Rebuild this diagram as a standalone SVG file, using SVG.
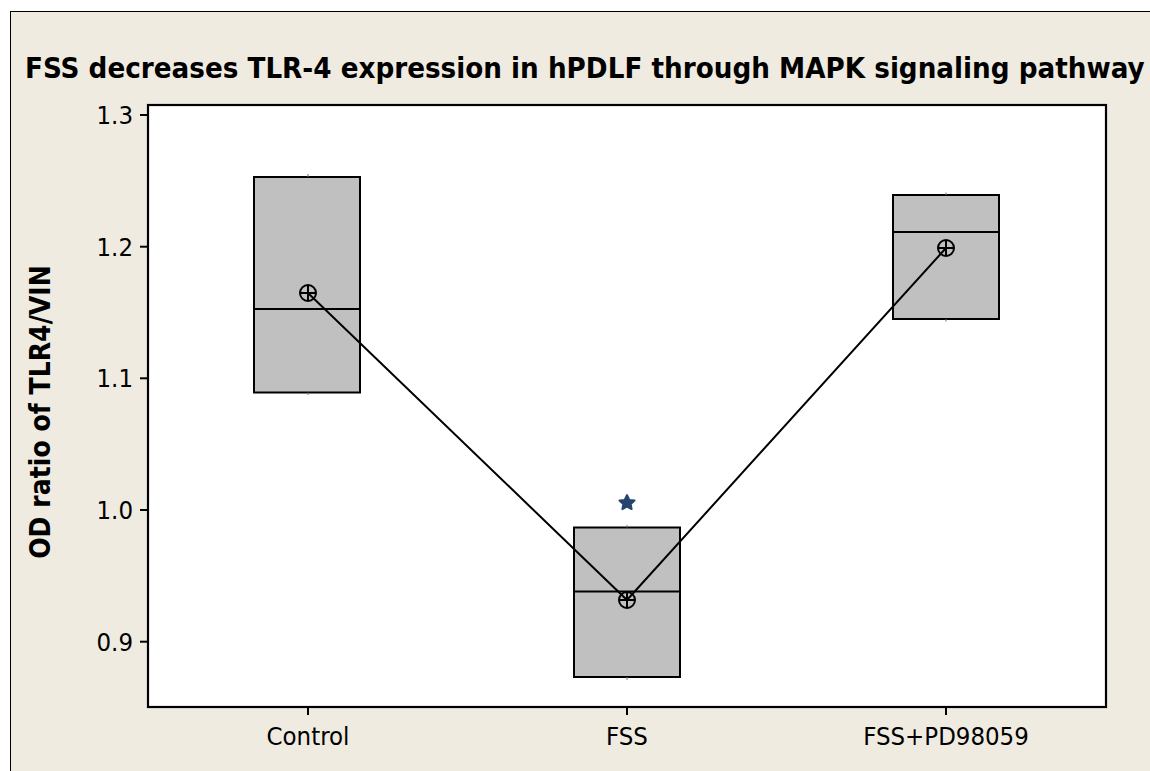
<svg xmlns="http://www.w3.org/2000/svg" width="1150" height="771" viewBox="0 0 1150 771">
<style>
.tick{stroke:#000;stroke-width:2}
.lbl{font-family:"DejaVu Sans Condensed","DejaVu Sans",sans-serif;font-stretch:condensed;font-size:25.5px;fill:#000}
.box{fill:#C0C0C0;stroke:#000;stroke-width:2}
.med{stroke:#000;stroke-width:2}
.wh{stroke:#777;stroke-width:1}
</style>
<defs>
<g id="meansym">
<circle cx="0" cy="0" r="8" fill="none" stroke="#000" stroke-width="2"/>
<line x1="-8" y1="0" x2="8" y2="0" stroke="#000" stroke-width="2"/>
<line x1="0" y1="-8" x2="0" y2="8" stroke="#000" stroke-width="2"/>
</g>
</defs>
<rect x="0" y="0" width="1150" height="771" fill="#fff"/>
<rect x="10.5" y="11.5" width="1150" height="770" fill="#EFEBE1" stroke="#000" stroke-width="1"/>
<g id="title">
<text x="25" y="78" font-family="'DejaVu Sans Condensed','DejaVu Sans',sans-serif" font-stretch="condensed" font-weight="bold" font-size="29.2" fill="#000">FSS decreases TLR-4 expression in hPDLF through MAPK signaling pathway</text>
</g>
<g id="plot-area">
<rect x="148" y="105" width="958" height="602" fill="#fff" stroke="#000" stroke-width="2.2"/>
</g>
<g id="y-axis">
<line class="tick" x1="140" y1="115" x2="148" y2="115"/>
<line class="tick" x1="140" y1="246.7" x2="148" y2="246.7"/>
<line class="tick" x1="140" y1="378.3" x2="148" y2="378.3"/>
<line class="tick" x1="140" y1="510" x2="148" y2="510"/>
<line class="tick" x1="140" y1="641.7" x2="148" y2="641.7"/>
<text class="lbl" x="133" y="124" text-anchor="end">1.3</text>
<text class="lbl" x="133" y="255.7" text-anchor="end">1.2</text>
<text class="lbl" x="133" y="387.3" text-anchor="end">1.1</text>
<text class="lbl" x="133" y="519" text-anchor="end">1.0</text>
<text class="lbl" x="133" y="650.7" text-anchor="end">0.9</text>
<text x="50" y="412" transform="rotate(-90 50 412)" text-anchor="middle" font-family="'DejaVu Sans Condensed','DejaVu Sans',sans-serif" font-stretch="condensed" font-weight="bold" font-size="28" fill="#000">OD ratio of TLR4/VIN</text>
</g>
<g id="x-axis">
<line class="tick" x1="308" y1="707" x2="308" y2="715"/>
<line class="tick" x1="627" y1="707" x2="627" y2="715"/>
<line class="tick" x1="946" y1="707" x2="946" y2="715"/>
<text class="lbl" x="308" y="745" text-anchor="middle">Control</text>
<text class="lbl" x="627" y="745" text-anchor="middle">FSS</text>
<text class="lbl" x="946" y="745" text-anchor="middle">FSS+PD98059</text>
</g>
<g id="box-control">
<rect class="box" x="254" y="177" width="106" height="215.5"/>
<line class="med" x1="254" y1="309" x2="360" y2="309"/>
<line class="wh" x1="308" y1="174" x2="308" y2="177"/>
<line class="wh" x1="308" y1="392.5" x2="308" y2="395"/>
</g>
<g id="box-fss">
<rect class="box" x="574" y="527.5" width="106" height="149.5"/>
<line class="med" x1="574" y1="591.5" x2="680" y2="591.5"/>
<line class="wh" x1="627" y1="525" x2="627" y2="527.5"/>
<line class="wh" x1="627" y1="677" x2="627" y2="680"/>
<path d="M627,495 L629.4,499.8 L634.6,500.5 L630.8,504.1 L631.7,509.2 L627,506.8 L622.3,509.2 L623.2,504.1 L619.4,500.5 L624.6,499.8 Z" fill="#264470" stroke="#264470" stroke-width="1.8" stroke-linejoin="round"/>
</g>
<g id="box-fsspd">
<rect class="box" x="893" y="195" width="106" height="124"/>
<line class="med" x1="893" y1="232" x2="999" y2="232"/>
<line class="wh" x1="946" y1="192.5" x2="946" y2="195"/>
<line class="wh" x1="946" y1="319" x2="946" y2="321.5"/>
</g>
<g id="connectors">
<polyline points="308,293 627,600 946,248" fill="none" stroke="#000" stroke-width="2"/>
</g>
<g id="means">
<use href="#meansym" x="308" y="293"/>
<use href="#meansym" x="627" y="600"/>
<use href="#meansym" x="946" y="248"/>
</g>
</svg>
